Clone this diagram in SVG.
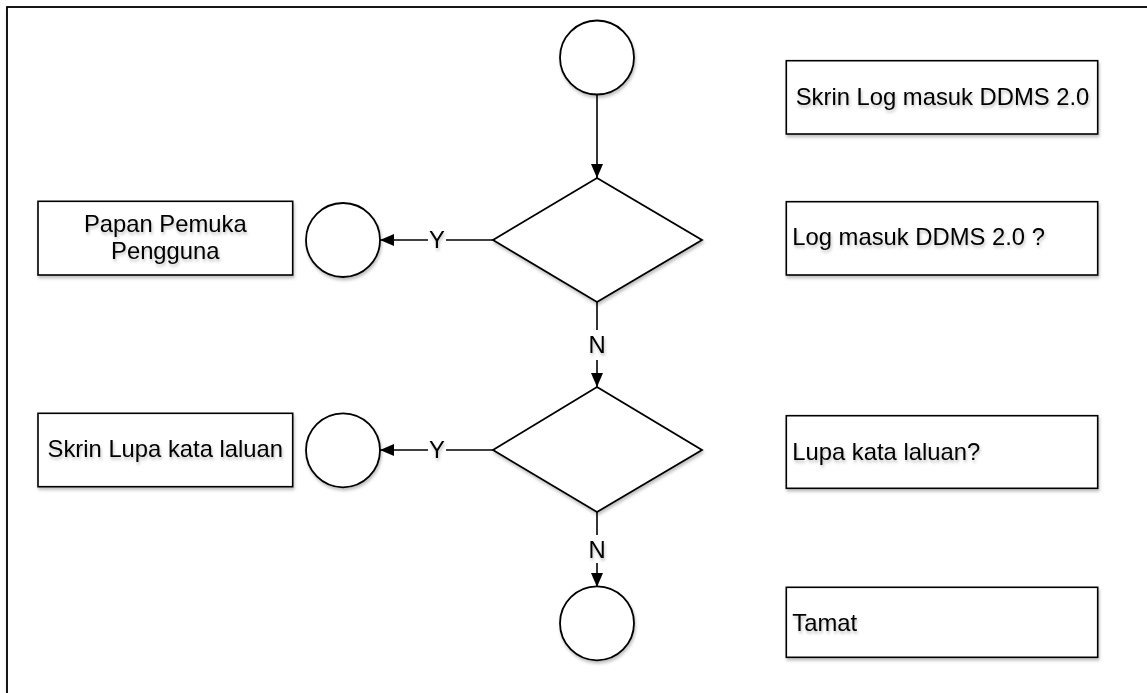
<svg xmlns="http://www.w3.org/2000/svg" width="1147" height="693" viewBox="0 0 1147 693">
<style>
.shape{fill:#fff;stroke:#000;stroke-width:1.8}
.box{fill:#fff;stroke:#000;stroke-width:1.6}
.t{font-family:"Liberation Sans",Arial,sans-serif;font-size:23.8px;fill:#000}
.c{text-anchor:middle}
.edge{fill:none;stroke:#000;stroke-width:1.6}
</style>
<defs>
<filter id="sh" x="-10%" y="-10%" width="130%" height="140%">
<feDropShadow dx="1" dy="2.5" stdDeviation="1.8" flood-color="#000" flood-opacity="0.25"/>
</filter>
<marker id="arr" markerWidth="14" markerHeight="12" refX="14" refY="6" orient="auto" markerUnits="userSpaceOnUse">
<path d="M0,0 L14,6 L0,12 Z" fill="#000"/>
</marker>
</defs>
<rect x="7" y="7" width="1300" height="900" fill="#fff" stroke="#000" stroke-width="1.8" filter="url(#sh)"/>
<g id="connectors">
<line class="edge" x1="597" y1="94" x2="597" y2="178" marker-end="url(#arr)"/>
<line class="edge" x1="493" y1="240" x2="446" y2="240"/>
<line class="edge" x1="428" y1="240" x2="380" y2="240" marker-end="url(#arr)"/>
<text class="t c" x="437" y="248.3" filter="url(#sh)">Y</text>
<line class="edge" x1="597" y1="302" x2="597" y2="330"/>
<line class="edge" x1="597" y1="360" x2="597" y2="387" marker-end="url(#arr)"/>
<text class="t c" x="597" y="353" filter="url(#sh)">N</text>
<line class="edge" x1="493" y1="450" x2="446" y2="450"/>
<line class="edge" x1="428" y1="450" x2="380" y2="450" marker-end="url(#arr)"/>
<text class="t c" x="437" y="457.7" filter="url(#sh)">Y</text>
<line class="edge" x1="597" y1="512" x2="597" y2="535"/>
<line class="edge" x1="597" y1="563" x2="597" y2="587" marker-end="url(#arr)"/>
<text class="t c" x="597" y="557.7" filter="url(#sh)">N</text>
</g>
<g id="start"><circle class="shape" cx="597" cy="57.5" r="37" filter="url(#sh)"/></g>
<g id="decision1"><polygon class="shape" points="597,178 702,240 597,302 493,240" filter="url(#sh)"/></g>
<g id="decision2"><polygon class="shape" points="597,387 702,450 597,512 493,450" filter="url(#sh)"/></g>
<g id="end"><circle class="shape" cx="597" cy="623.3" r="37" filter="url(#sh)"/></g>
<g id="conn1"><circle class="shape" cx="343" cy="240" r="37" filter="url(#sh)"/></g>
<g id="conn2"><circle class="shape" cx="343" cy="450.3" r="37" filter="url(#sh)"/></g>
<g id="lbl-papan">
<rect class="box" x="38" y="201.3" width="254.7" height="73.7" filter="url(#sh)"/>
<text class="t c" x="165.3" y="231.7" filter="url(#sh)">Papan Pemuka</text>
<text class="t c" x="165.3" y="259.3" filter="url(#sh)">Pengguna</text>
</g>
<g id="lbl-lupa-skrin">
<rect class="box" x="38" y="413.3" width="254.7" height="73.4" filter="url(#sh)"/>
<text class="t c" x="165.3" y="457.3" filter="url(#sh)">Skrin Lupa kata laluan</text>
</g>
<g id="lbl-skrin-log">
<rect class="box" x="786.3" y="60.7" width="311.4" height="73.3" filter="url(#sh)"/>
<text class="t c" x="942.5" y="105" filter="url(#sh)">Skrin Log masuk DDMS 2.0</text>
</g>
<g id="lbl-log-q">
<rect class="box" x="786.3" y="201.7" width="311.4" height="73.3" filter="url(#sh)"/>
<text class="t" x="792.3" y="245" filter="url(#sh)">Log masuk DDMS 2.0 ?</text>
</g>
<g id="lbl-lupa-q">
<rect class="box" x="786.3" y="415.7" width="311.4" height="72.6" filter="url(#sh)"/>
<text class="t" x="792.3" y="460" filter="url(#sh)">Lupa kata laluan?</text>
</g>
<g id="lbl-tamat">
<rect class="box" x="786.3" y="587.3" width="311.4" height="70" filter="url(#sh)"/>
<text class="t" x="792.3" y="630.7" filter="url(#sh)">Tamat</text>
</g>
</svg>
